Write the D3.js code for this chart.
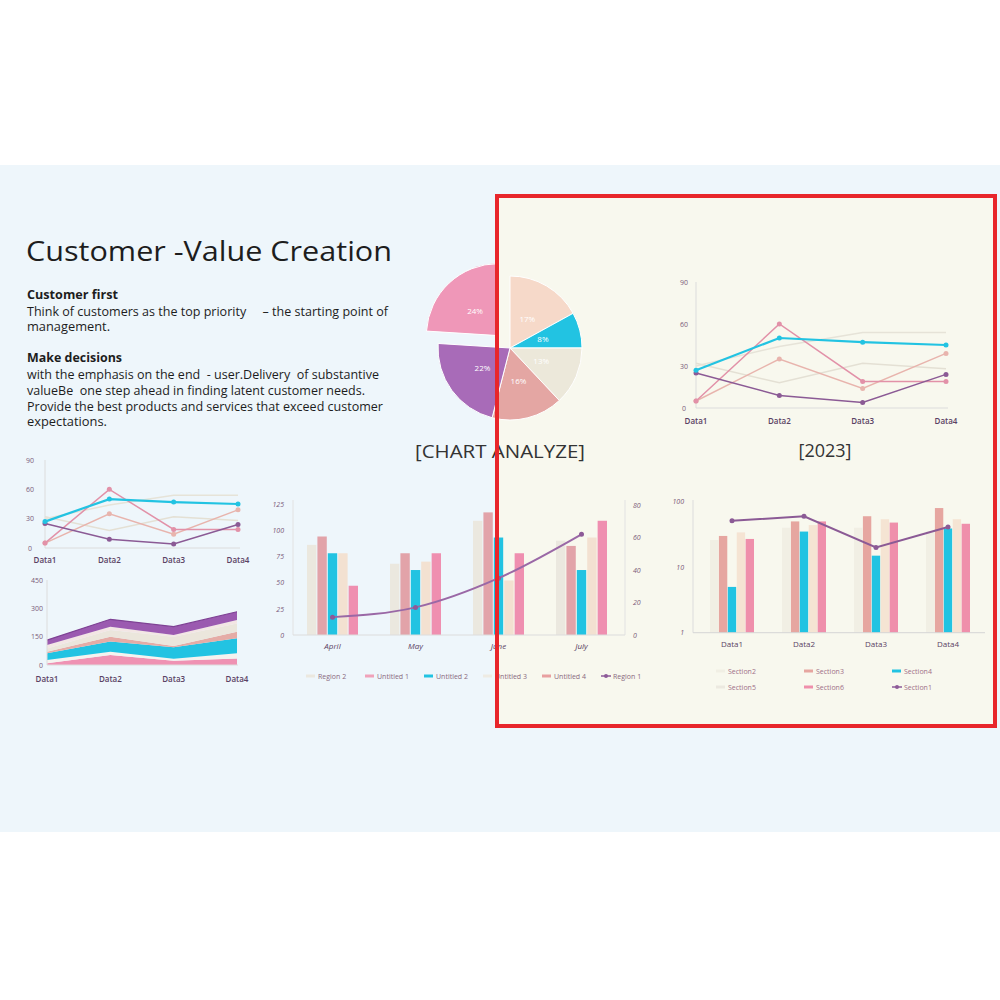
<!DOCTYPE html>
<html>
<head>
<meta charset="utf-8">
<script src="https://cdn.jsdelivr.net/npm/d3@7"></script>
<style>
  body { margin: 0; background: #fff; }
  svg { display: block; font-family: "Open Sans", "Noto Sans", sans-serif; }
</style>
</head>
<body>
<svg width="1000" height="1000"></svg>
<script>
const svg = d3.select("svg");

// ---------- data ----------
const lineCats = ["Data1", "Data2", "Data3", "Data4"];
const lineTeal = [27, 50, 47, 45];
const lineRose = [5, 60, 19, 19];
const lineBlush = [5, 35, 14, 39];
const linePurple = [25, 9, 4, 24];
const lineFaintA = [32, 18, 32, 28];
const lineFaintB = [30, 44, 54, 54];
const lineTicks = [0, 30, 60, 90];

const areaKeys = ["pink", "mist", "teal", "rose", "cream", "blush", "purple"];
const areaPink = [9, 53, 23, 35];
const areaMist = [17, 17, 10, 27];
const areaTeal = [36, 54, 61, 79];
const areaRose = [8, 26, 6, 35];
const areaCream = [18, 35, 50, 44];
const areaBlush = [18, 18, 9, 18];
const areaPurple = [26, 39, 44, 44];
const areaTicks = [0, 150, 300, 450];

const pieLabels = ["17%", "8%", "13%", "16%", "22%", "24%"];
const pieValues = [17, 8, 13, 16, 22, 24];

const months = ["April", "May", "June", "July"];
const region2 = [86, 68, 109, 90];
const untitled1 = [94, 78, 117, 85];
const untitled2 = [78, 62, 93, 62];
const untitled3 = [78, 70, 52, 93];
const untitled4 = [47, 78, 78, 109];
const region1 = [11, 17, 35, 62];
const monthTicksL = [0, 25, 50, 75, 100, 125];
const monthTicksR = [0, 20, 40, 60, 80];
const monthLegend = ["Region 2", "Untitled 1", "Untitled 2", "Untitled 3", "Untitled 4", "Region 1"];

const sectionCats = ["Data1", "Data2", "Data3", "Data4"];
const section2 = [26, 40, 40, 35];
const section3 = [30, 50, 60, 80];
const section4 = [5, 35, 15, 39];
const section5 = [34, 44, 54, 54];
const section6 = [27, 50, 48, 46];
const section1 = [51, 60, 20, 41];
const sectionTicks = [1, 10, 100];
const sectionLegend = ["Section2", "Section3", "Section4", "Section5", "Section6", "Section1"];

// colours
const teal = "#22c3e2";
const hotPink = "#ef8fb0";
const dustyRose = "#e2a3a9";
const peach = "#f3e1d1";
const creamBar = "#ebe8df";
const purple = "#8b5a95";
const tickColor = "#7a5a78";
const labelColor = "#5a4264";

// ---------- background ----------
svg.append("rect").attr("width", 1000).attr("height", 1000).attr("fill", "#fff");
svg.append("rect").attr("y", 165).attr("width", 1000).attr("height", 667).attr("fill", "#eef6fb");
svg.append("rect").attr("x", 497).attr("y", 196).attr("width", 498).attr("height", 530).attr("fill", "#f8f8ee");

// ---------- text block ----------
const txt = svg.append("g").attr("fill", "#1d1d1d");
txt.append("text").attr("x", 26).attr("y", 261).attr("font-size", 28)
  .attr("textLength", 366).attr("lengthAdjust", "spacingAndGlyphs")
  .text("Customer -Value Creation");

const nb = s => s.replace(/ {2,}/g, m => "\u00a0".repeat(m.length));
const body = [
  {t: "Customer first", y: 299, w: 91, b: true},
  {t: "Think of customers as the top priority     – the starting point of", y: 316, w: 361},
  {t: "management.", y: 331, w: 83},
  {t: "Make decisions", y: 362, w: 95, b: true},
  {t: "with the emphasis on the end  - user.Delivery  of substantive", y: 379, w: 352},
  {t: "valueBe  one step ahead in finding latent customer needs.", y: 395, w: 338},
  {t: "Provide the best products and services that exceed customer", y: 411, w: 356},
  {t: "expectations.", y: 426, w: 80}
];
txt.selectAll("text.body").data(body).enter().append("text")
  .attr("class", "body")
  .attr("x", 27).attr("y", d => d.y)
  .attr("font-size", 12.5)
  .attr("font-weight", d => d.b ? 700 : 400)
  .attr("textLength", d => d.w).attr("lengthAdjust", "spacingAndGlyphs")
  .text(d => nb(d.t));

// ---------- pie ----------
const pieColors = ["#f6d9c9", teal, "#ece8da", "#e4a6a3", "#a86bb8", "#ef97b8"];
const pieG = svg.append("g").attr("transform", "translate(510,348)");
const arcs = d3.pie().sort(null)(pieValues);
const arc = d3.arc().innerRadius(0).outerRadius(72);
const labelArc = d3.arc().innerRadius(34).outerRadius(34);
const explode = i => i === 5 ? 17 : 0;
const offset = (d, i) => {
  const a = (d.startAngle + d.endAngle) / 2;
  return [Math.sin(a) * explode(i), -Math.cos(a) * explode(i)];
};
const slice = pieG.selectAll("g.slice").data(arcs).enter().append("g")
  .attr("transform", (d, i) => `translate(${offset(d, i)})`);
slice.append("path").attr("d", arc)
  .attr("fill", (d, i) => pieColors[i])
  .attr("stroke", "#fff").attr("stroke-width", 1);
slice.append("text")
  .attr("transform", d => `translate(${labelArc.centroid(d)})`)
  .attr("text-anchor", "middle").attr("dy", "0.35em")
  .attr("font-size", 8).attr("fill", "#fff")
  .text((d, i) => pieLabels[i]);

svg.append("text").attr("x", 500).attr("y", 458).attr("text-anchor", "middle")
  .attr("font-size", 18).attr("fill", "#333")
  .attr("textLength", 170).attr("lengthAdjust", "spacingAndGlyphs").text("[CHART ANALYZE]");
svg.append("text").attr("x", 825).attr("y", 457).attr("text-anchor", "middle")
  .attr("font-size", 18).attr("fill", "#333").text("[2023]");

// ---------- line charts ----------
function lineChart(x0, x1, yBase, yTop, tickX, labelY) {
  const g = svg.append("g");
  const x = d3.scalePoint().domain(lineCats).range([x0, x1]);
  const y = d3.scaleLinear().domain([0, 90]).range([yBase, yTop]);

  g.append("line").attr("x1", x0).attr("x2", x0).attr("y1", yBase).attr("y2", yTop)
    .attr("stroke", "#dcdcdc");
  g.append("line").attr("x1", x0).attr("x2", x1 + 2).attr("y1", yBase).attr("y2", yBase)
    .attr("stroke", "#dcdcdc");

  const yAxis = g.append("g").attr("transform", `translate(${tickX},0)`)
    .call(d3.axisLeft(y).tickValues(lineTicks).tickSize(0).tickPadding(0));
  yAxis.select(".domain").remove();
  yAxis.selectAll("text").attr("text-anchor", "middle").attr("font-size", 7)
    .attr("fill", tickColor).attr("font-family", "Open Sans");

  g.selectAll("text.xl").data(lineCats).enter().append("text")
    .attr("x", d => x(d)).attr("y", labelY).attr("text-anchor", "middle")
    .attr("font-size", 8).attr("font-weight", 600).attr("fill", labelColor).text(d => d);

  const series = [
    {v: lineFaintA, c: "#e4e0d4", w: 1.5, dot: false},
    {v: lineFaintB, c: "#e6e3d8", w: 1.5, dot: false},
    {v: lineBlush, c: "#e8b4ad", w: 1.5, dot: true},
    {v: lineRose, c: "#e291a8", w: 1.5, dot: true},
    {v: linePurple, c: purple, w: 1.5, dot: true},
    {v: lineTeal, c: teal, w: 2.2, dot: true}
  ];
  const line = d3.line().x((d, i) => x(lineCats[i])).y(d => y(d));
  series.forEach(s => {
    g.append("path").attr("d", line(s.v)).attr("fill", "none")
      .attr("stroke", s.c).attr("stroke-width", s.w);
    if (s.dot) {
      g.selectAll(null).data(s.v).enter().append("circle")
        .attr("cx", (d, i) => x(lineCats[i])).attr("cy", d => y(d))
        .attr("r", 2.5).attr("fill", s.c);
    }
  });
}
lineChart(696, 946, 408, 282, 684, 424);
lineChart(45, 238, 548, 460, 30, 563);

// ---------- stacked area ----------
{
  const g = svg.append("g");
  const rows = lineCats.map((c, i) => ({
    cat: c, pink: areaPink[i], mist: areaMist[i], teal: areaTeal[i], rose: areaRose[i],
    cream: areaCream[i], blush: areaBlush[i], purple: areaPurple[i]
  }));
  const stack = d3.stack().keys(areaKeys)(rows);
  const x = d3.scalePoint().domain(lineCats).range([47, 237]);
  const y = d3.scaleLinear().domain([0, 450]).range([665, 580]);
  const colors = {pink: "#ef92b3", mist: "#f5f3ef", teal: teal, rose: "#e5aca6",
    cream: "#ebe6dc", blush: "#f3e6e4", purple: "#9b5ab0"};
  const area = d3.area().x(d => x(d.data.cat)).y0(d => y(d[0])).y1(d => y(d[1]));
  g.selectAll("path.layer").data(stack).enter().append("path")
    .attr("d", area).attr("fill", d => colors[d.key]);
  const top = stack[stack.length - 1];
  g.append("path")
    .attr("d", d3.line().x(d => x(d.data.cat)).y(d => y(d[1]))(top))
    .attr("fill", "none").attr("stroke", "#7e4294").attr("stroke-width", 1.2);

  g.append("line").attr("x1", 47).attr("x2", 47).attr("y1", 665).attr("y2", 580).attr("stroke", "#dcdcdc");
  g.append("line").attr("x1", 47).attr("x2", 238).attr("y1", 665).attr("y2", 665).attr("stroke", "#dcdcdc");
  const yAxis = g.append("g").attr("transform", "translate(43,0)")
    .call(d3.axisLeft(y).tickValues(areaTicks).tickSize(0).tickPadding(0));
  yAxis.select(".domain").remove();
  yAxis.selectAll("text").attr("font-size", 7).attr("fill", tickColor).attr("font-family", "Open Sans");
  g.selectAll("text.xl").data(lineCats).enter().append("text")
    .attr("x", d => x(d)).attr("y", 682).attr("text-anchor", "middle")
    .attr("font-size", 8).attr("font-weight", 600).attr("fill", labelColor).text(d => d);
}

// ---------- month bar chart ----------
{
  const g = svg.append("g");
  const x0 = d3.scaleBand().domain(months).range([291, 623]);
  const keys = ["region2", "untitled1", "untitled2", "untitled3", "untitled4"];
  const vals = {region2, untitled1, untitled2, untitled3, untitled4};
  const colors = {region2: creamBar, untitled1: dustyRose, untitled2: teal, untitled3: peach, untitled4: hotPink};
  const x1 = d3.scaleBand().domain(keys).range([0, 51]).paddingInner(0.1);
  const yL = d3.scaleLinear().domain([0, 125]).range([635, 504]);
  const yR = d3.scaleLinear().domain([0, 80]).range([635, 505]);
  const pad = (x0.bandwidth() - 51) / 2;

  g.append("line").attr("x1", 293).attr("x2", 293).attr("y1", 635).attr("y2", 500).attr("stroke", "#e2e2e2");
  g.append("line").attr("x1", 625).attr("x2", 625).attr("y1", 635).attr("y2", 500).attr("stroke", "#e2e2e2");

  months.forEach((m, i) => {
    const grp = g.append("g").attr("transform", `translate(${x0(m) + pad},0)`);
    grp.selectAll("rect").data(keys).enter().append("rect")
      .attr("x", k => x1(k)).attr("width", x1.bandwidth())
      .attr("y", k => yL(vals[k][i])).attr("height", k => 635 - yL(vals[k][i]))
      .attr("fill", k => colors[k]);
  });
  g.append("line").attr("x1", 293).attr("x2", 625).attr("y1", 635).attr("y2", 635).attr("stroke", "#dcdcdc");

  const lx = m => x0(m) + x0.bandwidth() / 2;
  g.append("path")
    .attr("d", d3.line().curve(d3.curveMonotoneX).x((d, i) => lx(months[i])).y(d => yR(d))(region1))
    .attr("fill", "none").attr("stroke", "#9a68a6").attr("stroke-width", 2);
  g.selectAll("circle").data(region1).enter().append("circle")
    .attr("cx", (d, i) => lx(months[i])).attr("cy", d => yR(d)).attr("r", 2.5).attr("fill", "#8d5a98");

  const yAxisL = g.append("g").attr("transform", "translate(284,0)")
    .call(d3.axisLeft(yL).tickValues(monthTicksL).tickSize(0).tickPadding(0));
  yAxisL.select(".domain").remove();
  yAxisL.selectAll("text").attr("font-size", 7).attr("font-style", "italic").attr("fill", tickColor).attr("font-family", "Open Sans");
  const yAxisR = g.append("g").attr("transform", "translate(633,0)")
    .call(d3.axisRight(yR).tickValues(monthTicksR).tickSize(0).tickPadding(0));
  yAxisR.select(".domain").remove();
  yAxisR.selectAll("text").attr("font-size", 7).attr("font-style", "italic").attr("fill", tickColor).attr("font-family", "Open Sans");

  g.selectAll("text.xl").data(months).enter().append("text")
    .attr("x", d => lx(d)).attr("y", 649).attr("text-anchor", "middle")
    .attr("font-size", 8).attr("font-style", "italic").attr("fill", labelColor).text(d => d);

  // legend
  const legColors = [creamBar, "#f0a2ba", teal, "#eeebe3", "#e8a0a0", "#8d5a98"];
  const leg = g.selectAll("g.leg").data(monthLegend).enter().append("g")
    .attr("transform", (d, i) => `translate(${306 + i * 59},676)`);
  leg.each(function (d, i) {
    const s = d3.select(this);
    if (i === 5) {
      s.append("line").attr("x1", 0).attr("x2", 10).attr("y1", 0).attr("y2", 0)
        .attr("stroke", legColors[i]).attr("stroke-width", 1.5);
      s.append("circle").attr("cx", 5).attr("r", 2).attr("fill", legColors[i]);
    } else {
      s.append("rect").attr("x", 0).attr("y", -1.5).attr("width", 9).attr("height", 3).attr("fill", legColors[i]);
    }
    s.append("text").attr("x", 12).attr("y", 2.5).attr("font-size", 7).attr("fill", "#8a6a80").text(d);
  });
}

// ---------- section bar chart (log) ----------
{
  const g = svg.append("g");
  const x0 = d3.scaleBand().domain(sectionCats).range([696, 984]);
  const keys = ["section2", "section3", "section4", "section5", "section6"];
  const vals = {section2, section3, section4, section5, section6};
  const colors = {section2: "#f1efe4", section3: "#e6a6a0", section4: teal, section5: "#f5e4d3", section6: "#ef8fab"};
  const x1 = d3.scaleBand().domain(keys).range([0, 44]).paddingInner(0.06);
  const y = d3.scaleLog().domain([1, 100]).range([632.7, 501.7]);
  const pad = (x0.bandwidth() - 44) / 2;
  const base = y(1);

  g.append("line").attr("x1", 693).attr("x2", 693).attr("y1", base).attr("y2", 500).attr("stroke", "#dcdcdc");
  sectionCats.forEach((c, i) => {
    const grp = g.append("g").attr("transform", `translate(${x0(c) + pad},0)`);
    grp.selectAll("rect").data(keys).enter().append("rect")
      .attr("x", k => x1(k)).attr("width", x1.bandwidth())
      .attr("y", k => y(vals[k][i])).attr("height", k => base - y(vals[k][i]))
      .attr("fill", k => colors[k]);
  });
  g.append("line").attr("x1", 693).attr("x2", 985).attr("y1", base).attr("y2", base).attr("stroke", "#d6d6d6");

  const lx = c => x0(c) + x0.bandwidth() / 2;
  g.append("path")
    .attr("d", d3.line().x((d, i) => lx(sectionCats[i])).y(d => y(d))(section1))
    .attr("fill", "none").attr("stroke", purple).attr("stroke-width", 2);
  g.selectAll("circle").data(section1).enter().append("circle")
    .attr("cx", (d, i) => lx(sectionCats[i])).attr("cy", d => y(d)).attr("r", 2.5).attr("fill", purple);

  const yAxis = g.append("g").attr("transform", "translate(684,0)")
    .call(d3.axisLeft(y).tickValues(sectionTicks).tickFormat(d3.format("d")).tickSize(0).tickPadding(0));
  yAxis.select(".domain").remove();
  yAxis.selectAll("text").attr("font-size", 7).attr("font-style", "italic").attr("fill", tickColor).attr("font-family", "Open Sans");

  g.selectAll("text.xl").data(sectionCats).enter().append("text")
    .attr("x", d => lx(d)).attr("y", 647).attr("text-anchor", "middle")
    .attr("font-size", 8).attr("fill", labelColor).text(d => d);

  const legColors = ["#f1efe4", "#e6a6a0", teal, "#ece9e0", "#ef8fab", "#8d5a98"];
  const leg = g.selectAll("g.leg").data(sectionLegend).enter().append("g")
    .attr("transform", (d, i) => `translate(${716 + (i % 3) * 88},${i < 3 ? 671 : 687})`);
  leg.each(function (d, i) {
    const s = d3.select(this);
    if (i === 5) {
      s.append("line").attr("x1", 0).attr("x2", 10).attr("y1", 0).attr("y2", 0)
        .attr("stroke", legColors[i]).attr("stroke-width", 1.5);
      s.append("circle").attr("cx", 5).attr("r", 2).attr("fill", legColors[i]);
    } else {
      s.append("rect").attr("x", 0).attr("y", -1.5).attr("width", 9).attr("height", 3).attr("fill", legColors[i]);
    }
    s.append("text").attr("x", 12).attr("y", 2.5).attr("font-size", 7).attr("fill", "#a07088").text(d);
  });
}

// ---------- red highlight frame ----------
svg.append("rect").attr("x", 497).attr("y", 196).attr("width", 498).attr("height", 530)
  .attr("fill", "none").attr("stroke", "#e8262b").attr("stroke-width", 4);
</script>
</body>
</html>
